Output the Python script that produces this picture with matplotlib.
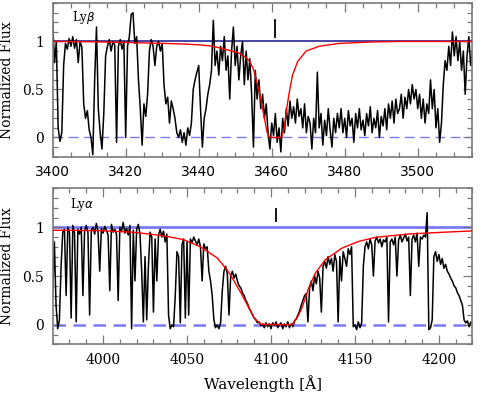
"""Lyman beta and Lyman alpha absorption of the damped system, normalized spectrum with fit."""

import matplotlib
matplotlib.use("Agg")
import matplotlib.pyplot as plt
import numpy as np
from matplotlib.ticker import MultipleLocator

# Lyman beta panel: flux sampled every 0.5 A from 3400 to 3515 A
LYB_START, LYB_STEP = 3400.0, 0.5
LYB_FLUX = [
    1.20, 0.78, 1.00, 0.10, -0.04, 0.05, 0.75, 0.98, 0.92, 1.03,
    0.95, 1.05, 0.93, 1.02, 0.78, 1.00, 0.94, 0.35, 0.20, 0.28,
    0.08, 0.00, -0.18, 0.60, 1.15, 0.30, 0.05, -0.12, 0.25, 0.85,
    0.95, 1.02, 0.90, 1.00, 0.96, -0.05, 0.95, 1.02, 0.92, 1.00,
    0.00, 0.95, 1.05, 1.28, 1.30, 0.98, 1.05, 0.60, 0.30, -0.08,
    0.35, 0.22, 0.45, 0.90, 1.02, 0.95, 0.75, 0.95, 1.00, 0.90,
    0.98, 0.55, 0.35, 0.42, 0.15, 0.38, 0.30, 0.20, 0.05, 0.00,
    0.08, -0.05, 0.05, -0.08, 0.10, 0.02, 0.15, 0.50, 0.60, 0.68,
    0.75, 0.30, -0.10, 0.20, 0.30, 0.45, 0.55, 0.70, 1.22, 0.75,
    0.90, 0.65, 0.95, 0.80, 1.05, 0.70, 0.85, 0.40, 0.90, 1.15,
    0.75, 0.95, 0.60, 0.85, 1.00, 0.55, 0.90, 0.60, 0.82, 0.45,
    -0.10, 0.70, 0.40, 0.60, 0.30, 0.45, 0.20, 0.35, 0.05, -0.12,
    0.15, 0.02, 0.25, -0.05, 0.10, -0.15, 0.20, 0.05, 0.30, 0.12,
    0.38, 0.20, 0.32, 0.15, 0.40, 0.22, 0.30, 0.10, 0.35, 0.05,
    0.22, 0.15, -0.12, 0.20, 0.05, 0.68, 0.10, 0.25, -0.08, 0.18,
    0.02, 0.30, 0.08, -0.10, 0.20, 0.05, 0.25, 0.10, 0.30, 0.05,
    0.20, 0.00, 0.28, 0.12, 0.20, -0.05, 0.25, 0.10, 0.30, 0.08,
    0.18, 0.02, 0.25, 0.12, 0.32, 0.05, 0.20, 0.10, 0.28, 0.00,
    0.22, 0.12, 0.30, 0.08, 0.35, 0.20, 0.38, 0.15, 0.40, 0.25,
    0.30, 0.45, 0.20, 0.42, 0.30, 0.50, 0.35, 0.55, 0.40, 0.50,
    0.30, 0.45, 0.20, 0.40, 0.15, 0.35, 0.25, 0.60, 0.30, 0.50,
    0.10, 0.30, -0.05, 0.15, 0.55, 0.80, 0.70, 0.95, 0.75, 1.10,
    0.85, 1.05, 0.80, 1.00, 0.70, 0.90, 0.45, 0.85, 1.05, 0.75,
    0.90,
]
LYB_MODEL_WAVE = [3400, 3410, 3420, 3425, 3430, 3435, 3440, 3443, 3445, 3447,
                  3449, 3451, 3453, 3454, 3455, 3456, 3457, 3458, 3458.7, 3459.2,
                  3460, 3462, 3462.8, 3463.5, 3464.1, 3464.8, 3465.7, 3467.1, 3469.4, 3473,
                  3478.5, 3487.6, 3495, 3515]
LYB_MODEL_FLUX = [1.0, 0.997, 0.99, 0.985, 0.98, 0.975, 0.965, 0.955, 0.94, 0.92,
                  0.90, 0.88, 0.83, 0.79, 0.71, 0.57, 0.40, 0.20, 0.06, 0.01,
                  0.0, 0.0, 0.01, 0.11, 0.30, 0.47, 0.65, 0.79, 0.90, 0.95,
                  0.98, 0.995, 1.0, 1.0]

# Lyman alpha panel: flux sampled every 1 A from 3970 to 4220 A
LYA_START, LYA_STEP = 3970.0, 1.0
LYA_FLUX = [
    0.30, 0.85, 0.20, -0.04, 0.05, 0.60, 0.95, 0.98, 0.30, 1.00,
    0.95, 0.07, 1.02, 0.94, 0.03, 0.98, 0.93, 1.00, 0.30, 0.96,
    1.02, 0.95, 0.10, 0.97, 1.00, 0.93, 1.04, 0.96, 0.55, 0.99,
    0.94, 1.01, 0.97, 0.92, 0.35, 1.03, 0.95, 0.98, 0.93, 0.25,
    1.00, 0.96, 1.05, 0.94, 0.99, 0.92, 1.02, -0.04, 0.97, 0.45,
    0.98, 1.03, 0.93, 0.55, 0.03, 0.70, 0.05, 0.60, 0.95, 0.90,
    0.13, 0.88, 0.45, 0.92, 0.98, 0.90, 0.96, 0.85, 0.93, 0.10,
    -0.04, 0.00, -0.02, 0.30, 0.75, 0.70, 0.02, 0.82, 0.88, 0.07,
    0.85, 0.10, 0.88, 0.84, 0.90, 0.86, 0.82, 0.88, 0.80, 0.45,
    0.83, 0.78, 0.80, 0.55, 0.45, 0.30, 0.05, -0.03, 0.00, -0.04,
    0.02, 0.35, 0.55, 0.60, 0.52, 0.10, 0.50, 0.55, 0.48, 0.52,
    0.45, 0.40, 0.38, 0.33, 0.30, 0.25, 0.22, 0.17, 0.14, 0.10,
    0.07, 0.05, 0.02, 0.03, -0.01, 0.01, -0.03, 0.02, -0.02, 0.01,
    -0.04, 0.02, -0.01, 0.03, -0.03, 0.00, 0.02, -0.04, 0.01, -0.02,
    0.03, -0.03, 0.01, -0.02, 0.04, 0.06, 0.10, 0.14, 0.20, 0.25,
    0.30, 0.32, 0.03, 0.38, 0.45, 0.35, 0.50, 0.42, 0.55, 0.48,
    0.13, 0.60, 0.65, 0.58, 0.70, 0.62, 0.68, 0.55, 0.72, 0.65,
    0.03, 0.70, 0.45, 0.75, 0.68, 0.60, 0.78, 0.72, 0.80, -0.02,
    0.00, -0.05, 0.03, -0.03, 0.02, 0.60, 0.80, 0.85, 0.78, 0.88,
    0.82, 0.50, 0.86, 0.90, 0.84, 0.88, 0.80, 0.87, 0.85, 0.90,
    0.03, 0.85, 0.88, 0.82, 0.90, 0.50, 0.87, 0.92, 0.85, 0.89,
    0.93, 0.86, 0.90, 0.30, 0.88, 0.92, 0.85, 0.94, 0.60, 0.90,
    0.88, 0.92, 0.90, 1.15, -0.05, -0.03, 0.05, 0.70, 0.75, 0.65,
    0.72, 0.62, 0.68, 0.58, 0.62, 0.55, 0.52, 0.48, 0.45, 0.40,
    0.38, 0.33, 0.30, 0.25, 0.20, 0.05, 0.02, 0.04, -0.02, 0.03,
    0.01,
]
LYA_MODEL_WAVE = [3970, 3998, 4018, 4028, 4038, 4048, 4058, 4068, 4074, 4078,
                  4082, 4086, 4090, 4094, 4112.4, 4115.4, 4118.4, 4122.4, 4126.4, 4132.3,
                  4142.4, 4152.4, 4162.3, 4182.4, 4202.3, 4220]
LYA_MODEL_FLUX = [0.97, 0.966, 0.949, 0.93, 0.907, 0.873, 0.80, 0.685, 0.56, 0.45,
                  0.33, 0.20, 0.07, 0.005, 0.0, 0.066, 0.17, 0.375, 0.53, 0.667,
                  0.788, 0.856, 0.897, 0.932, 0.949, 0.963]

LYB_CENTER = 3461.0
LYA_CENTER = 4103.0

SERIF = "DejaVu Serif"
SANS = "DejaVu Sans"
FRAME = "#7a7a7a"
BLUE = "#7b7bff"
NAVY = "#14148c"


def style_axes(ax, xmin, xmax, major, minor, tick_family):
    ax.set_xlim(xmin, xmax)
    ax.set_ylim(-0.2, 1.4)
    ax.xaxis.set_major_locator(MultipleLocator(major))
    ax.xaxis.set_minor_locator(MultipleLocator(minor))
    ax.yaxis.set_major_locator(MultipleLocator(0.5))
    ax.yaxis.set_minor_locator(MultipleLocator(0.1))
    ax.set_yticks([0, 0.5, 1], ["0", "0.5", "1"])
    ax.tick_params(which="both", direction="in", top=True, right=True, color=FRAME, width=0.9)
    ax.tick_params(which="major", length=6.5, pad=6)
    ax.tick_params(which="minor", length=3.3)
    for label in ax.get_yticklabels():
        label.set_fontfamily(SERIF)
        label.set_fontsize(10)
    for label in ax.get_xticklabels():
        label.set_fontfamily(tick_family)
        label.set_fontsize(10)
    for spine in ax.spines.values():
        spine.set_color(FRAME)
        spine.set_linewidth(1.2)
    ax.set_ylabel("Normalized Flux", family=SERIF, fontsize=10, labelpad=6)


fig = plt.figure(figsize=(4.91, 3.99), dpi=100)
top = fig.add_axes([0.1073, 0.6073, 0.855, 0.385])
bottom = fig.add_axes([0.1073, 0.1371, 0.855, 0.391])

lyb_wave = LYB_START + LYB_STEP * np.arange(len(LYB_FLUX))
top.axhline(1, color=NAVY, linewidth=1.1, zorder=1)
top.axhline(0, color=BLUE, linewidth=1.0, dashes=(7, 4), zorder=1)
top.plot(lyb_wave, LYB_FLUX, color="black", linewidth=1.1, zorder=2)
top.plot(LYB_MODEL_WAVE, LYB_MODEL_FLUX, color="red", linewidth=1.0, zorder=3)
top.plot([LYB_CENTER, LYB_CENTER], [1.05, 1.22], color="black", linewidth=1.3)
top.text(3405.2, 1.25, r"Ly$\beta$", family=SERIF, fontsize=8.5, va="center")
style_axes(top, 3400, 3515, 20, 5, SANS)

lya_wave = LYA_START + LYA_STEP * np.arange(len(LYA_FLUX))
bottom.axhline(1, color=BLUE, linewidth=2.0, zorder=1)
bottom.axhline(0, color=BLUE, linewidth=1.8, dashes=(5, 3), zorder=1)
bottom.plot(lya_wave, LYA_FLUX, color="black", linewidth=1.1, zorder=2)
bottom.plot(LYA_MODEL_WAVE, LYA_MODEL_FLUX, color="red", linewidth=1.0, zorder=3)
bottom.plot([LYA_CENTER, LYA_CENTER], [1.06, 1.19], color="black", linewidth=1.3)
bottom.text(3980.4, 1.23, r"Ly$\alpha$", family=SERIF, fontsize=8.5, va="center")
style_axes(bottom, 3970, 4220, 50, 10, SERIF)
bottom.set_xlabel("Wavelength [Å]", family=SERIF, fontsize=11, labelpad=6)

fig.savefig("out.png", dpi=100, facecolor="white")
